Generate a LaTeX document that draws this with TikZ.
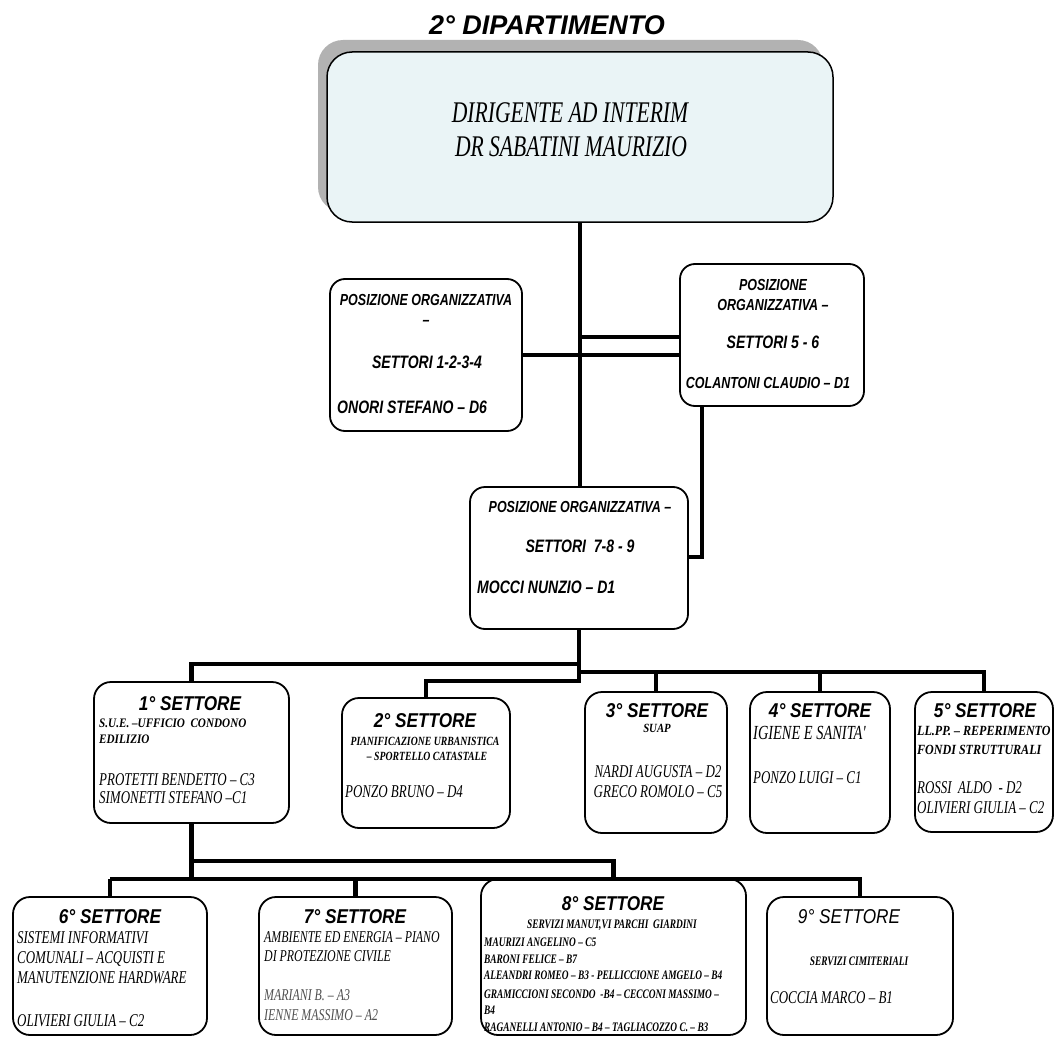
\documentclass[tikz,border=0pt]{standalone}
\usepackage{fontspec}
\usetikzlibrary{fit}
\newfontfamily\hsfont[FakeStretch=0.86]{Liberation Sans}
\newfontfamily\hscfont[FakeStretch=0.78]{Liberation Sans}
\newfontfamily\hsnfont{Liberation Sans}
\newfontfamily\tmfont[FakeStretch=0.72]{Liberation Serif}
\newfontfamily\tmmfont[FakeStretch=0.78]{Liberation Serif}
\newfontfamily\tmwfont[FakeStretch=0.86]{Liberation Serif}
\definecolor{dirblue}{RGB}{234,244,246}
\definecolor{shgray}{RGB}{178,178,178}
\definecolor{txgray}{RGB}{80,80,80}
\tikzset{
  box/.style={draw, line width=1.8pt, fill=white, rounded corners=17pt, inner sep=0pt},
  pobox/.style={draw, line width=1.8pt, fill=white, rounded corners=15pt, inner sep=0pt},
  conn/.style={line width=4.5pt},
  ttl/.style={font=\hsfont\bfseries\itshape\fontsize{20}{24}\selectfont, inner sep=0pt, anchor=base},
  po/.style={font=\hscfont\bfseries\itshape\fontsize{16}{19}\selectfont, inner sep=0pt, anchor=base},
  pol/.style={font=\hscfont\bfseries\itshape\fontsize{18}{21}\selectfont, inner sep=0pt, anchor=base},
  nm/.style={font=\tmfont\itshape\fontsize{18}{20}\selectfont, inner sep=0pt, anchor=base west},
  sub/.style={font=\tmwfont\bfseries\itshape\fontsize{14}{16}\selectfont, inner sep=0pt, anchor=base west},
  smb/.style={font=\tmfont\bfseries\itshape\fontsize{13}{15}\selectfont, inner sep=0pt, anchor=base west},
  dtx/.style={font=\tmfont\itshape\fontsize{30}{34}\selectfont, inner sep=0pt, anchor=base},
}
\begin{document}
\begin{tikzpicture}[x=1pt,y=-1pt]
\useasboundingbox (0,0) rectangle (1055,1038);
% ---------- boxes ----------
\node[fit={(318,40) (823,212)}, fill=shgray, rounded corners=25pt, inner sep=0pt] (dirsh) {};
\node[fit={(327,52) (833,222)}, draw, line width=1.5pt, fill=dirblue, rounded corners=25pt, inner sep=0pt] (dir) {};
\node[pobox, fit={(330,279) (522,431)}] (po1) {};
\node[pobox, fit={(680,264) (864,406)}] (po2) {};
\node[pobox, fit={(470,487) (688,629)}] (mid) {};
\node[box, fit={(94,682) (289,823)}] (s1) {};
\node[box, fit={(342,698) (510,828)}] (s2) {};
\node[box, fit={(585,692) (727,833)}] (s3) {};
\node[box, fit={(750,692) (890,833)}] (s4) {};
\node[box, fit={(915,692) (1053,832)}] (s5) {};
\node[box, fit={(13,897) (207,1035)}] (s6) {};
\node[box, fit={(259,897) (452,1035)}] (s7) {};
\node[box, fit={(481,879) (746,1035)}] (s8) {};
\node[box, fit={(767,897) (953,1035)}] (s9) {};
% ---------- helper coordinates ----------
\coordinate (y337) at (0,337);
\coordinate (j1) at (702,557);
\coordinate (y664) at (0,664);
\coordinate (y672) at (0,672);
\coordinate (y681) at (0,681);
\coordinate (y683) at (0,683);
\coordinate (y861) at (0,861);
\coordinate (y879) at (0,879);
% ---------- connectors ----------
\draw[conn] (dir.south) -- (dir.south |- mid.north);
\draw[conn] (dir.south |- y337) -- (po2.west |- y337);
\draw[conn] (po1.east) -- (po1.east -| po2.west);
\draw[conn] (po2.south -| j1) -- (j1) -- (j1 -| mid.east);
\draw[conn] (mid.south) -- (mid.south |- y683);
\draw[conn] (mid.south |- y664) -- (s1.north |- y664) -- (s1.north);
\draw[conn] (mid.south |- y681) -- (s2.north |- y681) -- (s2.north);
\draw[conn] (mid.south |- y672) -- (s5.north |- y672) -- (s5.north);
\draw[conn] (s3.north |- y672) -- (s3.north);
\draw[conn] (s4.north |- y672) -- (s4.north);
\draw[conn] (s1.south) -- (s1.south |- y879);
\draw[conn] (s1.south |- y861) -- (s8.north |- y861) -- (s8.north);
\draw[conn] (s6.north |- y879) -- (s9.north |- y879) -- (s9.north);
\draw[conn] (s6.north |- y879) -- (s6.north);
\draw[conn] (s7.north |- y879) -- (s7.north);
% ---------- texts ----------
\node[font=\hsnfont\bfseries\itshape\fontsize{27}{30}\selectfont, anchor=base, inner sep=0pt] (title) at (547,35) {2° DIPARTIMENTO};
\node[dtx] (d1) at (570,123) {DIRIGENTE AD INTERIM};
\node[dtx] (d2) at (571,157) {DR SABATINI MAURIZIO};
% PO 1-2-3-4
\node[po] (p1a) at (426,305) {POSIZIONE ORGANIZZATIVA};
\node[po] (p1b) at (426,325) {–};
\node[pol] (p1c) at (427,368) {SETTORI 1-2-3-4};
\node[pol, anchor=base west] (p1d) at (337,413) {ONORI STEFANO – D6};
% PO 5-6
\node[po] (p2a) at (773,290) {POSIZIONE};
\node[po] (p2b) at (773,310) {ORGANIZZATIVA –};
\node[pol] (p2c) at (773,348) {SETTORI 5 - 6};
\node[po] (p2d) at (768,388) {COLANTONI CLAUDIO – D1};
% PO 7-8-9
\node[po] (m1) at (580,512) {POSIZIONE ORGANIZZATIVA –};
\node[pol] (m2) at (580,552) {SETTORI\ \ 7-8 - 9};
\node[pol, anchor=base west] (m3) at (477,593) {MOCCI NUNZIO – D1};
% 1 settore
\node[ttl] (t1) at (190,710) {1° SETTORE};
\node[sub, font=\tmwfont\bfseries\itshape\fontsize{13}{15}\selectfont] (t1a) at (99,727) {S.U.E. –UFFICIO\ \ CONDONO};
\node[sub, font=\tmwfont\bfseries\itshape\fontsize{13}{15}\selectfont] (t1b) at (99,743) {EDILIZIO};
\node[nm] (t1c) at (99,785) {PROTETTI BENDETTO – C3};
\node[nm] (t1d) at (99,803) {SIMONETTI STEFANO –C1};
% 2 settore
\node[ttl] (t2) at (425,727) {2° SETTORE};
\node[font=\tmmfont\bfseries\itshape\fontsize{12.5}{14}\selectfont, inner sep=0pt, anchor=base] (t2a) at (425,745) {PIANIFICAZIONE URBANISTICA};
\node[font=\tmmfont\bfseries\itshape\fontsize{12.5}{14}\selectfont, inner sep=0pt, anchor=base] (t2b) at (427,760) {– SPORTELLO CATASTALE};
\node[nm] (t2c) at (345,797) {PONZO BRUNO – D4};
% 3 settore
\node[ttl] (t3) at (657,717) {3° SETTORE};
\node[sub, anchor=base, font=\tmwfont\bfseries\itshape\fontsize{12.5}{14}\selectfont] (t3a) at (657,732) {SUAP};
\node[nm, anchor=base] (t3b) at (658,777) {NARDI AUGUSTA – D2};
\node[nm, anchor=base] (t3c) at (658,797) {GRECO ROMOLO – C5};
% 4 settore
\node[ttl] (t4) at (820,717) {4° SETTORE};
\node[nm, font=\tmfont\itshape\fontsize{20}{22}\selectfont] (t4a) at (753,739) {IGIENE E SANITA'};
\node[nm] (t4b) at (753,783) {PONZO LUIGI – C1};
% 5 settore
\node[ttl] (t5) at (985,717) {5° SETTORE};
\node[sub] (t5a) at (917,735) {LL.PP. – REPERIMENTO};
\node[sub] (t5b) at (917,754) {FONDI STRUTTURALI};
\node[nm] (t5c) at (917,793) {ROSSI\ \ ALDO\ \ - D2};
\node[nm] (t5d) at (917,813) {OLIVIERI GIULIA – C2};
% 6 settore
\node[ttl] (t6) at (110,923) {6° SETTORE};
\node[nm] (t6a) at (17,943) {SISTEMI INFORMATIVI};
\node[nm] (t6b) at (17,963) {COMUNALI – ACQUISTI E};
\node[nm] (t6c) at (17,983) {MANUTENZIONE HARDWARE};
\node[nm] (t6d) at (17,1026) {OLIVIERI GIULIA – C2};
% 7 settore
\node[ttl] (t7) at (355,923) {7° SETTORE};
\node[nm, font=\tmfont\itshape\fontsize{16.5}{18}\selectfont] (t7a) at (264,942) {AMBIENTE ED ENERGIA – PIANO};
\node[nm, font=\tmfont\itshape\fontsize{16.5}{18}\selectfont] (t7b) at (264,961) {DI PROTEZIONE CIVILE};
\node[nm, font=\tmfont\itshape\fontsize{16.5}{18}\selectfont, text=txgray] (t7c) at (264,1000) {MARIANI B. – A3};
\node[nm, font=\tmfont\itshape\fontsize{16.5}{18}\selectfont, text=txgray] (t7d) at (264,1020) {IENNE MASSIMO – A2};
% 8 settore
\node[ttl] (t8) at (613,910) {8° SETTORE};
\node[smb, anchor=base] (t8a) at (612,928) {SERVIZI MANUT,VI PARCHI\ \ GIARDINI};
\node[smb] (t8b) at (484,946) {MAURIZI ANGELINO – C5};
\node[smb] (t8c) at (484,963) {BARONI FELICE – B7};
\node[smb] (t8d) at (484,979) {ALEANDRI ROMEO – B3 - PELLICCIONE AMGELO – B4};
\node[smb] (t8e) at (484,998) {GRAMICCIONI SECONDO\ \ -B4 – CECCONI MASSIMO –};
\node[smb] (t8f) at (484,1014) {B4};
\node[smb] (t8g) at (484,1031) {RAGANELLI ANTONIO – B4 – TAGLIACOZZO C. – B3};
% 9 settore
\node[ttl, font=\hsfont\itshape\fontsize{20}{24}\selectfont] (t9) at (849,923) {9° SETTORE};
\node[smb, anchor=base] (t9a) at (859,965) {SERVIZI CIMITERIALI};
\node[nm] (t9b) at (770,1003) {COCCIA MARCO – B1};
\end{tikzpicture}
\end{document}
